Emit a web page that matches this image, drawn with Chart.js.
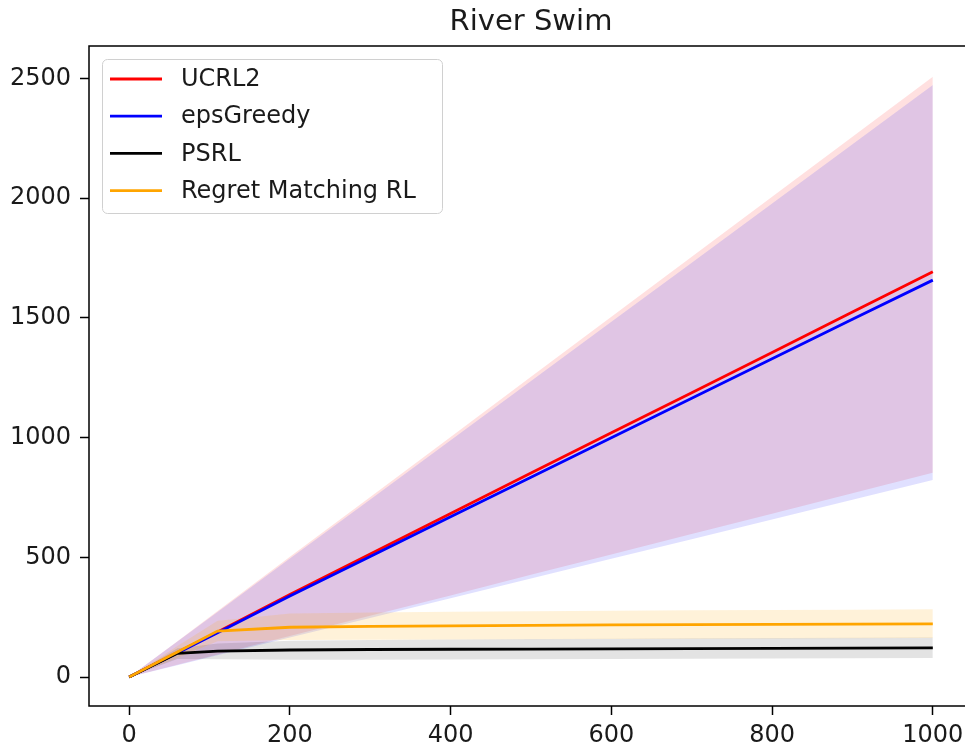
<!DOCTYPE html>
<html>
<head>
<meta charset="utf-8">
<script src="https://cdn.jsdelivr.net/npm/chart.js@4/dist/chart.umd.min.js"></script>
<style>
html,body{margin:0;padding:0;background:#fff;overflow:hidden;}
#wrap{width:1000px;height:747px;}
</style>
</head>
<body>
<div id="wrap"><canvas id="c" width="1000" height="747"></canvas></div>
<script>
const chartTitle = "River Swim";
const steps = [0, 60, 110, 200, 300, 400, 500, 600, 700, 800, 900, 1000];

const seriesNames = ["UCRL2", "epsGreedy", "PSRL", "Regret Matching RL"];
const ucrl2 = [0, 102, 188, 345, 514, 683, 852, 1020, 1188, 1356, 1525, 1693];
const ucrl2Upper = [0, 150, 276, 502, 752, 1003, 1254, 1505, 1756, 2006, 2257, 2508];
const ucrl2Lower = [0, 51, 94, 171, 256, 341, 427, 512, 597, 682, 768, 853];

const epsGreedy = [0, 100, 185, 338, 504, 670, 835, 1000, 1165, 1330, 1495, 1658];
const epsGreedyUpper = [0, 148, 272, 495, 742, 989, 1237, 1484, 1731, 1978, 2226, 2473];
const epsGreedyLower = [0, 49, 91, 165, 247, 329, 412, 494, 576, 658, 741, 823];

const psrl = [0, 99, 108, 113, 115, 116, 117, 118, 119, 120, 121, 122];
const psrlUpper = [0, 120, 140, 152, 155, 157, 159, 160, 162, 163, 164, 165];
const psrlLower = [0, 75, 74, 72, 72, 73, 74, 75, 76, 77, 78, 79];

const rmrl = [0, 105, 192, 208, 212, 214, 216, 218, 219, 220, 221, 222];
const rmrlUpper = [0, 130, 235, 265, 270, 273, 275, 277, 279, 280, 281, 283];
const rmrlLower = [0, 80, 150, 155, 156, 157, 158, 159, 160, 161, 162, 163];

const xTicks = [0, 200, 400, 600, 800, 1000];
const yTicks = [0, 500, 1000, 1500, 2000, 2500];

const colors = ["#ff0000", "#0000ff", "#000000", "#ffa500"];
const bandColors = ["rgba(255,0,0,0.12)", "rgba(0,0,255,0.12)", "rgba(0,0,0,0.11)", "rgba(255,165,0,0.15)"];

const pts = arr => arr.map((v, i) => ({x: steps[i], y: v}));

const lines = [ucrl2, epsGreedy, psrl, rmrl];
const uppers = [ucrl2Upper, epsGreedyUpper, psrlUpper, rmrlUpper];
const lowers = [ucrl2Lower, epsGreedyLower, psrlLower, rmrlLower];

const datasets = [];
lines.forEach((arr, i) => {
  datasets.push({
    label: seriesNames[i], data: pts(arr), borderColor: colors[i], borderWidth: 2.8,
    pointRadius: 0, fill: false, tension: 0, order: 3 - i
  });
});
lines.forEach((arr, i) => {
  datasets.push({
    label: seriesNames[i] + " upper", data: pts(uppers[i]), borderWidth: 0, borderColor: 'rgba(0,0,0,0)',
    backgroundColor: bandColors[i], pointRadius: 0, fill: '+1', tension: 0, order: 20 - i
  });
  datasets.push({
    label: seriesNames[i] + " lower", data: pts(lowers[i]), borderWidth: 0, borderColor: 'rgba(0,0,0,0)',
    pointRadius: 0, fill: false, tension: 0, order: 20 - i
  });
});

const font = '"DejaVu Sans", sans-serif';

const decor = {
  id: 'decor',
  afterDraw(chart) {
    const ctx = chart.ctx, a = chart.chartArea;
    ctx.save();
    ctx.strokeStyle = '#000';
    ctx.lineWidth = 1.5;
    ctx.strokeRect(a.left, a.top, a.right - a.left, a.bottom - a.top);
    ctx.fillStyle = '#1a1a1a';
    ctx.font = '29px ' + font;
    ctx.textAlign = 'center';
    ctx.textBaseline = 'alphabetic';
    ctx.fillText(chartTitle, (a.left + a.right) / 2, 30);
    const lx = a.left + 13.5, ly = a.top + 13.5, lw = 340, lh = 154;
    ctx.beginPath();
    ctx.roundRect(lx, ly, lw, lh, 5);
    ctx.fillStyle = 'rgba(255,255,255,0.8)';
    ctx.fill();
    ctx.strokeStyle = '#d0d0d0';
    ctx.lineWidth = 1;
    ctx.stroke();
    ctx.font = '24px ' + font;
    ctx.textAlign = 'left';
    ctx.textBaseline = 'middle';
    seriesNames.forEach((name, i) => {
      const y = a.top + 33 + i * 37.2;
      ctx.beginPath();
      ctx.moveTo(a.left + 21, y);
      ctx.lineTo(a.left + 73, y);
      ctx.strokeStyle = colors[i];
      ctx.lineWidth = 2.8;
      ctx.stroke();
      ctx.fillStyle = '#1a1a1a';
      ctx.fillText(name, a.left + 92, y + 1);
    });
    ctx.restore();
  }
};

new Chart(document.getElementById('c'), {
  type: 'line',
  data: {datasets},
  plugins: [decor],
  options: {
    responsive: false,
    animation: false,
    layout: {padding: {top: 46, right: 27, left: 0, bottom: 0}},
    plugins: {legend: {display: false}, title: {display: false}, tooltip: {enabled: false}},
    scales: {
      x: {
        type: 'linear', min: -50, max: 1050,
        afterBuildTicks: s => { s.ticks = xTicks.map(v => ({value: v})); },
        afterFit: s => { s.height = 41; },
        grid: {display: true, drawOnChartArea: false, drawTicks: true, tickLength: 9, tickColor: '#000', tickWidth: 1.5},
        border: {display: false},
        ticks: {color: '#1a1a1a', font: {family: font, size: 24}, padding: 6, maxRotation: 0, autoSkip: false,
                callback: v => String(v)}
      },
      y: {
        type: 'linear', min: -121, max: 2636,
        afterBuildTicks: s => { s.ticks = yTicks.map(v => ({value: v})); },
        afterFit: s => { s.width = 89; },
        grid: {display: true, drawOnChartArea: false, drawTicks: true, tickLength: 9, tickColor: '#000', tickWidth: 1.5},
        border: {display: false},
        ticks: {color: '#1a1a1a', font: {family: font, size: 24}, padding: 9, autoSkip: false,
                callback: v => String(v)}
      }
    }
  }
});
</script>
</body>
</html>
